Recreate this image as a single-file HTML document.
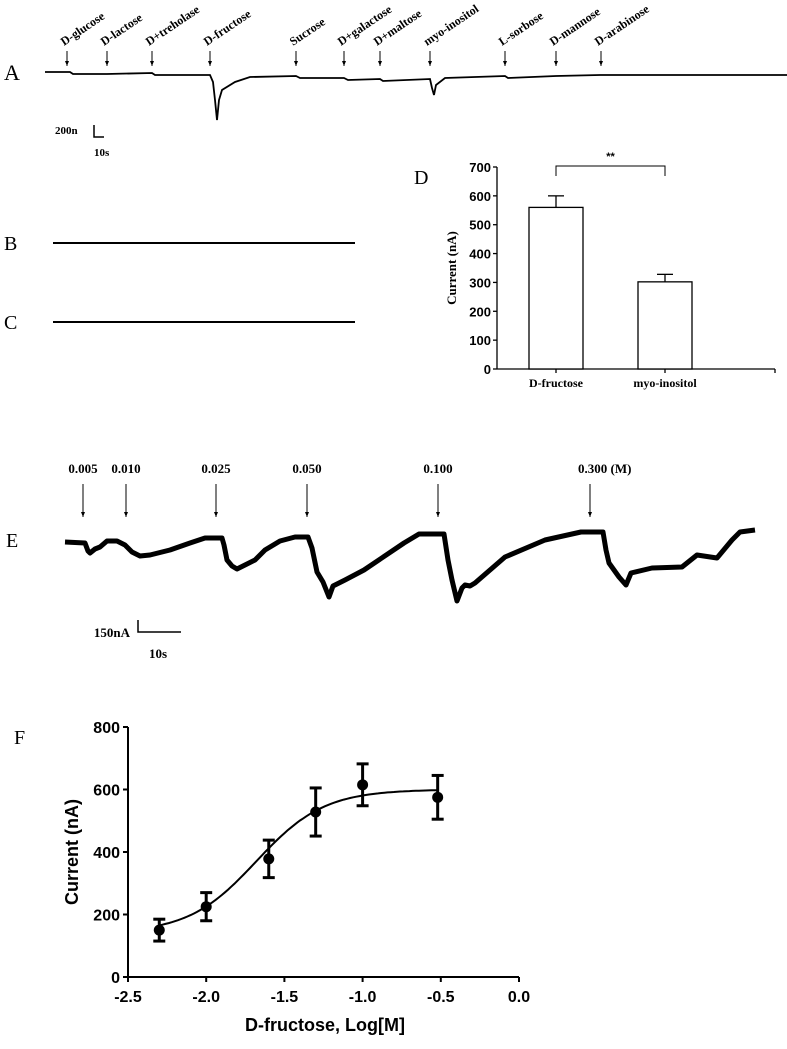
<!DOCTYPE html>
<html><head><meta charset="utf-8"><style>
html,body{margin:0;padding:0;background:#fff;}
svg{display:block;}
.serif{font-family:"Liberation Serif",serif;}
.sans{font-family:"Liberation Sans",Arial,sans-serif;font-weight:bold;}
</style></head><body>
<svg id="fig" width="787" height="1049" viewBox="0 0 787 1049" xmlns="http://www.w3.org/2000/svg">
<g id="panelA"></g>
<g id="panelBC"></g>
<g id="panelD"></g>
<g id="panelE"></g>
<g id="panelF"></g>
</svg>
<script>
// ---- Panel A data ----
const sugarNames = ["D-glucose","D-lactose","D+treholase","D-fructose","Sucrose","D+galactose","D+maltose","myo-inositol","L-sorbose","D-mannose","D-arabinose"];
const sugarArrowX = [67,107,152,210,296,344,380,430,505,556,601];
// ---- Panel D data ----
const dCategories = ["D-fructose","myo-inositol"];
const dValues = [560,302];
const dErrors = [40,26];
const dTicks = [0,100,200,300,400,500,600,700];
// ---- Panel E data ----
const eConcs = ["0.005","0.010","0.025","0.050","0.100","0.300 (M)"];
const eArrowX = [83,126,216,307,438,590];
// ---- Panel F data ----
const fLogConc = [-2.3,-2.0,-1.6,-1.3,-1.0,-0.52];
const fCurrent = [150,225,378,528,615,575];
const fErr = [35,45,60,77,67,70];
const fYTicks = [0,200,400,600,800];
const fXTicks = [-2.5,-2.0,-1.5,-1.0,-0.5,0.0];
const fFitBottom = 140, fFitTop = 600, fFitLogEC50 = -1.68, fFitHill = 2;

const NS="http://www.w3.org/2000/svg";
function mk(parent,tag,attrs,text){const e=document.createElementNS(NS,tag);for(const k in attrs)e.setAttribute(k,attrs[k]);if(text!==undefined)e.textContent=text;parent.appendChild(e);return e;}
function arrow(parent,x,y1,y2){
  const g=mk(parent,'g',{});
  mk(g,'line',{x1:x,y1:y1,x2:x,y2:y2,stroke:'#000','stroke-width':1});
  mk(g,'path',{d:`M${x-2},${y2-5} L${x},${y2} L${x+2},${y2-5} Z`,fill:'#000'});
  return g;
}

// ===== Panel A =====
const A=document.getElementById('panelA');
let t=mk(A,'text',{x:4,y:80,'font-size':22,class:'serif'},'A');


sugarNames.forEach((n,i)=>{
  const x=sugarArrowX[i];
  const l=arrow(A,x,51,66);
  
  
  const tx=mk(A,'text',{x:x-3,y:46,'font-size':12,'font-weight':'bold',class:'serif',transform:`rotate(-34 ${x-3} 46)`},n);
  
  
});
const aTrace="45,72 70,72 73,74 107,74 152,73 155,75 210,75 213,82 215,100 217,120 219,100 222,90 235,82 250,77 296,76 300,78 344,78 348,80 380,79 383,81 430,79 432,88 434,95 436,85 445,78 505,76 508,78 556,76 600,75 665,75 787,75";
let p=mk(A,'polyline',{points:aTrace,fill:'none',stroke:'#000','stroke-width':1.8});


mk(A,'path',{d:'M94,125 V137 H104',fill:'none',stroke:'#000','stroke-width':1.5});
t=mk(A,'text',{x:55,y:134,'font-size':11,'font-weight':'bold',class:'serif'},'200n');


t=mk(A,'text',{x:94,y:156,'font-size':11,'font-weight':'bold',class:'serif'},'10s');



// ===== Panels B, C =====
const BC=document.getElementById('panelBC');
[['B',243],['C',322]].forEach(([lab,y])=>{
  const tt=mk(BC,'text',{x:4,y:y+7,'font-size':20,class:'serif'},lab);
  
  
  const ln=mk(BC,'line',{x1:53,y1:y,x2:355,y2:y,stroke:'#000','stroke-width':2});
  
  
});

// ===== Panel D =====
const D=document.getElementById('panelD');
const dx0=497,dx1=775,dy0=369,dy700=167;
const dY=v=>dy0-(v/700)*(dy0-dy700);
const dBarX=[529,638],dBarW=54;
t=mk(D,'text',{x:414,y:184,'font-size':20,class:'serif'},'D');


mk(D,'line',{x1:dx0,y1:dy700,x2:dx0,y2:dy0,stroke:'#000','stroke-width':1.3});
mk(D,'line',{x1:dx0,y1:dy0,x2:dx1,y2:dy0,stroke:'#000','stroke-width':1.3});
mk(D,'line',{x1:dx1,y1:dy0,x2:dx1,y2:dy0+4,stroke:'#000','stroke-width':1.3});
dTicks.forEach(v=>{
  mk(D,'line',{x1:dx0-4,y1:dY(v),x2:dx0,y2:dY(v),stroke:'#000','stroke-width':1.3});
  const tt=mk(D,'text',{x:dx0-6,y:dY(v)+5,'font-size':13,'text-anchor':'end',class:'sans'},v);
  
  
});
t=mk(D,'text',{x:456,y:268,'font-size':13,'font-weight':'bold','text-anchor':'middle',class:'serif',transform:'rotate(-90 456 268)'},'Current (nA)');


dCategories.forEach((c,i)=>{
  const x=dBarX[i],cx=x+dBarW/2;
  const r=mk(D,'rect',{x:x,y:dY(dValues[i]),width:dBarW,height:dy0-dY(dValues[i]),fill:'#fff',stroke:'#000','stroke-width':1.3});
  
  
  mk(D,'line',{x1:cx,y1:dY(dValues[i]),x2:cx,y2:dY(dValues[i]+dErrors[i]),stroke:'#000','stroke-width':1.3});
  mk(D,'line',{x1:cx-8,y1:dY(dValues[i]+dErrors[i]),x2:cx+8,y2:dY(dValues[i]+dErrors[i]),stroke:'#000','stroke-width':1.3});
  mk(D,'line',{x1:cx,y1:dy0,x2:cx,y2:dy0+4,stroke:'#000','stroke-width':1.3});
  const tt=mk(D,'text',{x:cx,y:dy0+18,'font-size':12,'font-weight':'bold','text-anchor':'middle',class:'serif'},c);
  
  
});
const bL=dBarX[0]+dBarW/2,bR=dBarX[1]+dBarW/2;
mk(D,'path',{d:`M${bL},176 V166 H${bR} V176`,fill:'none',stroke:'#000','stroke-width':1});
t=mk(D,'text',{x:(bL+bR)/2,y:160,'font-size':11,'text-anchor':'middle',class:'sans'},'**');



// ===== Panel E =====
const E=document.getElementById('panelE');
t=mk(E,'text',{x:6,y:547,'font-size':20,class:'serif'},'E');


eConcs.forEach((c,i)=>{
  const x=eArrowX[i];
  const l=arrow(E,x,484,517);
  
  
  const last=i===eConcs.length-1;
  const tx=mk(E,'text',{x:last?x-12:x,y:473,'font-size':13,'font-weight':'bold','text-anchor':last?'start':'middle',class:'serif'},c);
  
  
});
const eTrace="65,542 85,543 88,551 90,553 95,549 100,547 107,541 117,541 125,545 132,552 140,556 150,555 170,550 190,543 205,538 222,538 224,545 227,560 232,566 237,569 245,565 255,560 265,550 280,541 295,537 308,537 312,548 317,572 323,582 329,597 333,586 345,580 364,570 404,543 419,534 444,534 448,560 452,580 457,601 462,588 465,585 470,586 475,583 505,557 545,540 581,532 603,532 606,550 609,563 619,577 626,585 631,573 652,568 682,567 697,555 717,558 732,540 740,532 755,530";
p=mk(E,'polyline',{points:eTrace,fill:'none',stroke:'#000','stroke-width':5,'stroke-linejoin':'round'});


mk(E,'path',{d:'M138,620 V632 H181',fill:'none',stroke:'#000','stroke-width':1.5});
t=mk(E,'text',{x:130,y:637,'font-size':13,'font-weight':'bold','text-anchor':'end',class:'serif'},'150nA');


t=mk(E,'text',{x:149,y:658,'font-size':13,'font-weight':'bold',class:'serif'},'10s');



// ===== Panel F =====
const F=document.getElementById('panelF');
const fx0=128,fx1=519,fy0=977,fy1=727;
const fX=v=>fx0+(v+2.5)/2.5*(fx1-fx0);
const fY=v=>fy0-v/800*(fy0-fy1);
t=mk(F,'text',{x:14,y:744,'font-size':20,class:'serif'},'F');


mk(F,'line',{x1:fx0,y1:fy1,x2:fx0,y2:fy0,stroke:'#000','stroke-width':2});
mk(F,'line',{x1:fx0,y1:fy0,x2:fx1,y2:fy0,stroke:'#000','stroke-width':2});
fYTicks.forEach(v=>{
  mk(F,'line',{x1:fx0-5,y1:fY(v),x2:fx0,y2:fY(v),stroke:'#000','stroke-width':2});
  const tt=mk(F,'text',{x:fx0-8,y:fY(v)+6,'font-size':16,'text-anchor':'end',class:'sans'},v);
  
  
});
fXTicks.forEach(v=>{
  mk(F,'line',{x1:fX(v),y1:fy0,x2:fX(v),y2:fy0+5,stroke:'#000','stroke-width':2});
  const tt=mk(F,'text',{x:fX(v),y:fy0+25,'font-size':16,'text-anchor':'middle',class:'sans'},v.toFixed(1));
  
  
});
t=mk(F,'text',{x:78,y:852,'font-size':18,'text-anchor':'middle',class:'sans',transform:'rotate(-90 78 852)'},'Current (nA)');


t=mk(F,'text',{x:325,y:1031,'font-size':18,'text-anchor':'middle',class:'sans'},'D-fructose, Log[M]');


let pts=[];
for(let lx=fLogConc[0];lx<=fLogConc[fLogConc.length-1]+1e-9;lx+=0.02){
  const y=fFitBottom+(fFitTop-fFitBottom)/(1+Math.pow(10,(fFitLogEC50-lx)*fFitHill));
  pts.push(fX(lx).toFixed(1)+','+fY(y).toFixed(1));
}
p=mk(F,'polyline',{points:pts.join(' '),fill:'none',stroke:'#000','stroke-width':2});


fLogConc.forEach((lx,i)=>{
  const x=fX(lx),y=fY(fCurrent[i]),yt=fY(fCurrent[i]+fErr[i]),yb=fY(fCurrent[i]-fErr[i]);
  const g=mk(F,'g',{});
  
  
  mk(g,'line',{x1:x,y1:yt,x2:x,y2:yb,stroke:'#000','stroke-width':3});
  mk(g,'line',{x1:x-6,y1:yt,x2:x+6,y2:yt,stroke:'#000','stroke-width':3});
  mk(g,'line',{x1:x-6,y1:yb,x2:x+6,y2:yb,stroke:'#000','stroke-width':3});
  mk(g,'circle',{cx:x,cy:y,r:5.5,fill:'#000'});
});
</script>
</body></html>
